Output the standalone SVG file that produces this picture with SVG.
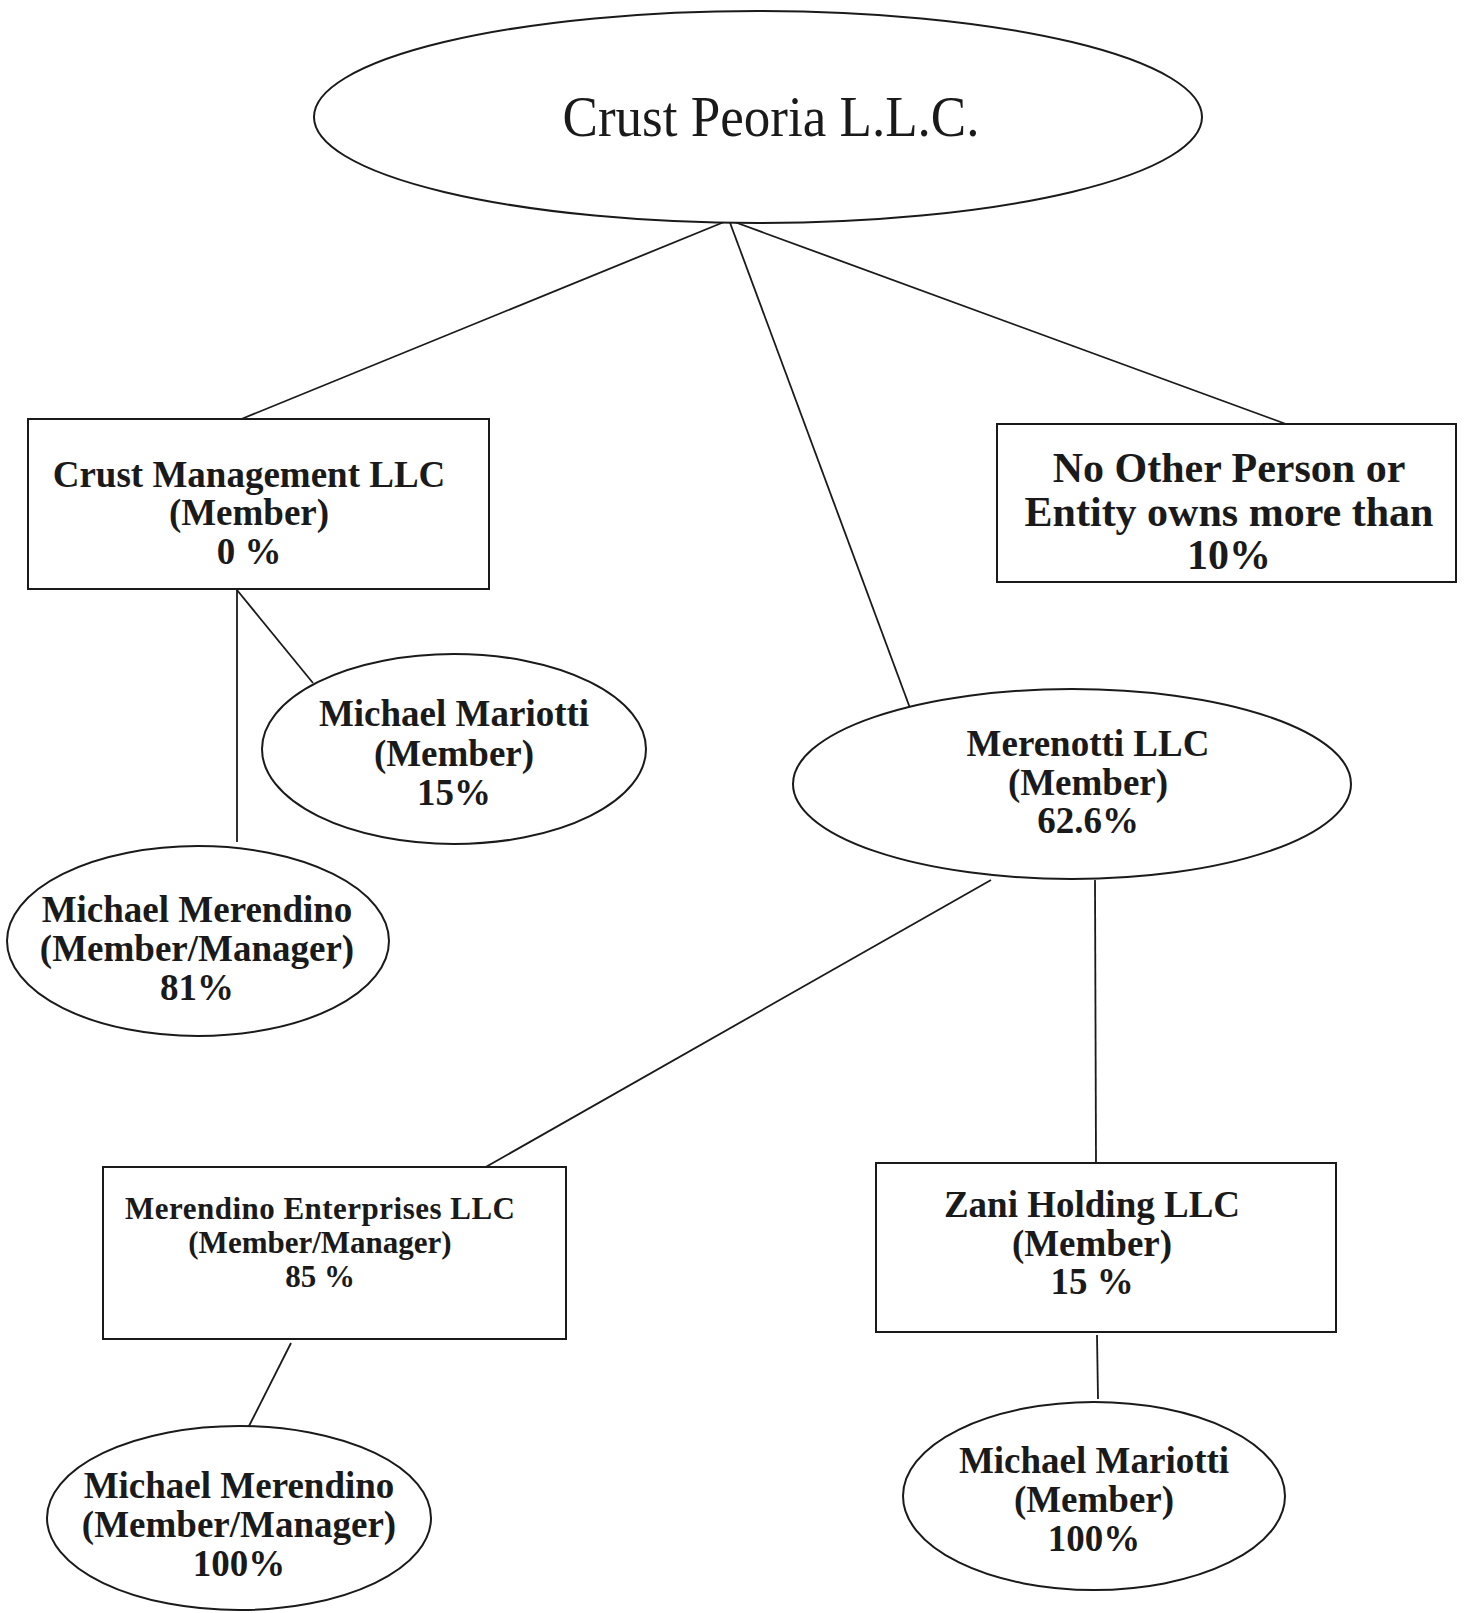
<svg xmlns="http://www.w3.org/2000/svg" width="1466" height="1613" viewBox="0 0 1466 1613">
<style>
.shape{fill:#fff;stroke:#1a1a1a;stroke-width:2}
.conn line{stroke:#1a1a1a;stroke-width:1.8}
text{font-family:"Liberation Serif","Times New Roman",serif;fill:#1a1a1a;text-anchor:middle;font-weight:bold}
.t37{font-size:37px}
.t42{font-size:42px}
.t31{font-size:31px}
.title{font-weight:normal;font-size:56px}
</style>
<rect width="1466" height="1613" fill="#fff"/>
<g id="connectors" class="conn">
<line x1="729" y1="220" x2="239" y2="420"/>
<line x1="729" y1="220" x2="910" y2="708"/>
<line x1="729" y1="220" x2="1286" y2="424"/>
<line x1="237" y1="590" x2="237" y2="842"/>
<line x1="237" y1="590" x2="313" y2="683"/>
<line x1="991" y1="880" x2="484" y2="1168"/>
<line x1="1095" y1="880" x2="1096" y2="1163"/>
<line x1="291" y1="1343" x2="248" y2="1428"/>
<line x1="1097" y1="1335" x2="1098" y2="1399"/>
</g>
<g id="crust-peoria">
<ellipse class="shape" cx="758" cy="117" rx="444" ry="106"/>
<text class="title" x="771" y="136" textLength="417" lengthAdjust="spacingAndGlyphs">Crust Peoria L.L.C.</text>
</g>
<g id="crust-management">
<rect class="shape" x="28" y="419" width="461" height="170"/>
<text class="t37" x="249" y="487">Crust Management LLC</text>
<text class="t37" x="249" y="525">(Member)</text>
<text class="t37" x="249" y="564">0 %</text>
</g>
<g id="no-other">
<rect class="shape" x="997" y="424" width="459" height="158"/>
<text class="t42" x="1229" y="482">No Other Person or</text>
<text class="t42" x="1229" y="526">Entity owns more than</text>
<text class="t42" x="1229" y="569">10%</text>
</g>
<g id="mariotti-1">
<ellipse class="shape" cx="454" cy="749" rx="192" ry="95"/>
<text class="t37" x="454" y="726">Michael Mariotti</text>
<text class="t37" x="454" y="766">(Member)</text>
<text class="t37" x="454" y="805">15%</text>
</g>
<g id="merendino-1">
<ellipse class="shape" cx="198" cy="941" rx="191" ry="95"/>
<text class="t37" x="197" y="922">Michael Merendino</text>
<text class="t37" x="197" y="961">(Member/Manager)</text>
<text class="t37" x="197" y="1000">81%</text>
</g>
<g id="merenotti">
<ellipse class="shape" cx="1072" cy="784" rx="279" ry="95"/>
<text class="t37" x="1088" y="756">Merenotti LLC</text>
<text class="t37" x="1088" y="795">(Member)</text>
<text class="t37" x="1088" y="833">62.6%</text>
</g>
<g id="merendino-enterprises">
<rect class="shape" x="103" y="1167" width="463" height="172"/>
<text class="t31" x="320" y="1219" textLength="390" lengthAdjust="spacing">Merendino Enterprises LLC</text>
<text class="t31" x="320" y="1253">(Member/Manager)</text>
<text class="t31" x="320" y="1287">85 %</text>
</g>
<g id="zani-holding">
<rect class="shape" x="876" y="1163" width="460" height="169"/>
<text class="t37" x="1092" y="1217">Zani Holding LLC</text>
<text class="t37" x="1092" y="1256">(Member)</text>
<text class="t37" x="1092" y="1294">15 %</text>
</g>
<g id="merendino-2">
<ellipse class="shape" cx="239" cy="1518" rx="192" ry="92"/>
<text class="t37" x="239" y="1498">Michael Merendino</text>
<text class="t37" x="239" y="1537">(Member/Manager)</text>
<text class="t37" x="239" y="1576">100%</text>
</g>
<g id="mariotti-2">
<ellipse class="shape" cx="1094" cy="1496" rx="191" ry="94"/>
<text class="t37" x="1094" y="1473">Michael Mariotti</text>
<text class="t37" x="1094" y="1512">(Member)</text>
<text class="t37" x="1094" y="1551">100%</text>
</g>
</svg>
